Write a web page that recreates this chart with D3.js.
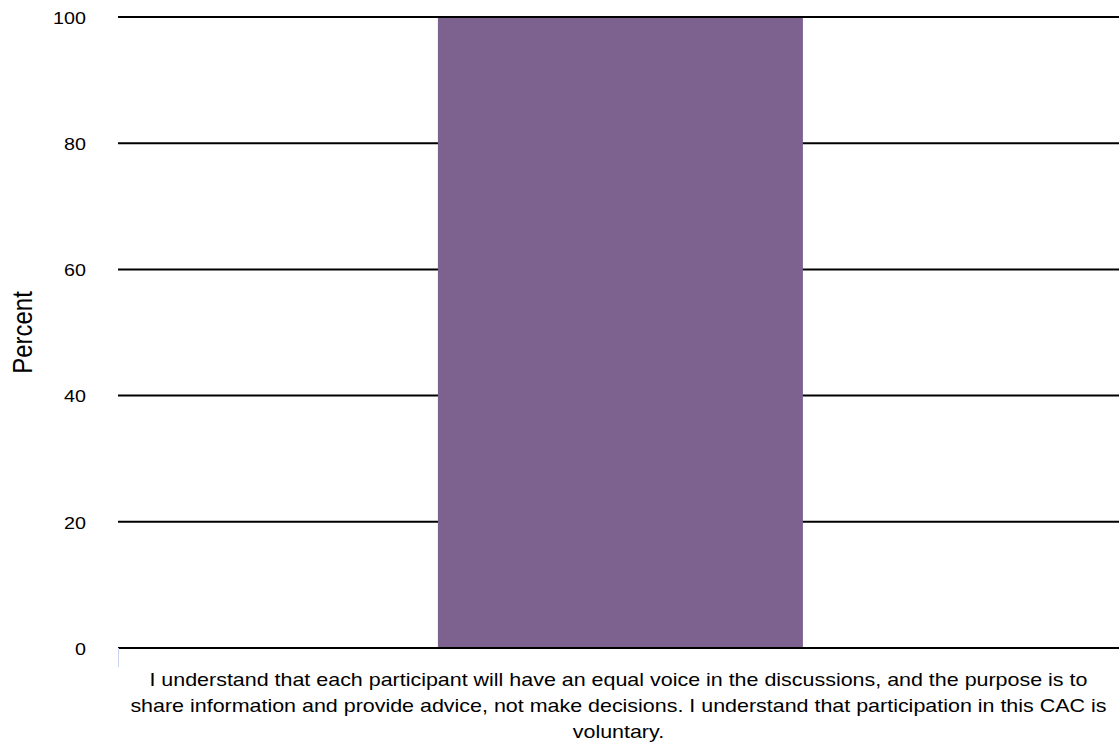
<!DOCTYPE html>
<html><head><meta charset="utf-8">
<script src="https://cdn.jsdelivr.net/npm/d3@7"></script>
<style>body{margin:0;background:#fff}svg{display:block}</style>
</head><body>
<script>
const categories = ["I understand that each participant will have an equal voice in the discussions, and the purpose is to share information and provide advice, not make decisions. I understand that participation in this CAC is voluntary."];
const categoryLines = [["I understand that each participant will have an equal voice in the discussions, and the purpose is to", "share information and provide advice, not make decisions. I understand that participation in this CAC is", "voluntary."]];
const values = [100];
const yTicks = [0, 20, 40, 60, 80, 100];
const yTitle = "Percent";

const W = 1119, H = 748;
const m = {left: 118, right: 0, top: 17, bottom: 100};
const k = 1.16; // horizontal stretch of text seen in the reference
const svg = d3.select("body").append("svg").attr("width", W).attr("height", H);
const font = "'Liberation Sans', Arial, Helvetica, sans-serif";

const x = d3.scaleBand().domain(categories).range([m.left, W - m.right]).paddingInner(0.635).paddingOuter(0.318).align(0.503);
const y = d3.scaleLinear().domain([0, 100]).range([H - m.bottom, m.top]);

// gridlines
svg.append("g").selectAll("line").data(yTicks).join("line")
  .attr("x1", m.left).attr("x2", W)
  .attr("y1", d => y(d)).attr("y2", d => y(d))
  .attr("stroke", "#000").attr("stroke-width", 2);

// bars
svg.append("g").selectAll("rect").data(values).join("rect")
  .attr("x", (d, i) => x(categories[i]))
  .attr("width", x.bandwidth())
  .attr("y", d => y(d) + 1)
  .attr("height", d => y(0) - y(d) - 1)
  .attr("fill", "#7d618f");

// baseline on top
svg.append("line").attr("x1", m.left).attr("x2", W).attr("y1", y(0)).attr("y2", y(0))
  .attr("stroke", "#000").attr("stroke-width", 2);
// small tick at left bottom
svg.append("line").attr("x1", m.left + 0.5).attr("x2", m.left + 0.5).attr("y1", y(0)).attr("y2", y(0) + 19)
  .attr("stroke", "#c8d4ec").attr("stroke-width", 1);

// y tick labels
svg.append("g").selectAll("text").data(yTicks).join("text")
  .attr("transform", d => `translate(86,${y(d)}) scale(${k},1)`)
  .attr("dy", "0.4em")
  .attr("text-anchor", "end").attr("font-family", font).attr("font-size", 17).attr("fill", "#000")
  .text(d => d);

// y title
svg.append("text").attr("transform", `translate(32,${(y(0) + y(100)) / 2}) scale(${k},1) rotate(-90)`)
  .attr("text-anchor", "middle").attr("font-family", font).attr("font-size", 24).attr("fill", "#000")
  .text(yTitle);

// category label
categoryLines.forEach((lines, i) => {
  const cx = x(categories[i]) + x.bandwidth() / 2 - 2;
  const t = svg.append("text").attr("transform", `translate(${cx},0) scale(${k},1)`)
    .attr("text-anchor", "middle").attr("font-family", font).attr("font-size", 18.5).attr("fill", "#000");
  lines.forEach((ln, j) => {
    t.append("tspan").attr("x", 0).attr("y", 686 + j * 26).text(ln);
  });
});
</script>
</body></html>
